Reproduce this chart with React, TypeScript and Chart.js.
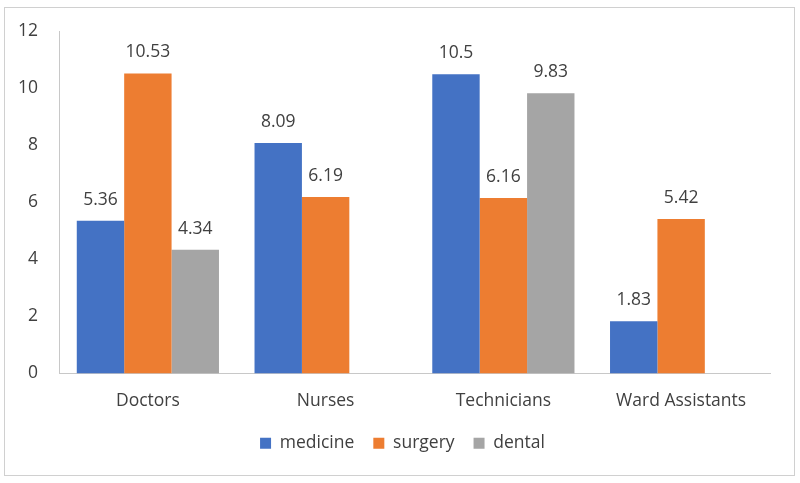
import React, { useEffect, useRef } from "react";
import { Chart, registerables } from "chart.js";

Chart.register(...registerables);

const categories = ["Doctors", "Nurses", "Technicians", "Ward Assistants"];
const medicine = [5.36, 8.09, 10.5, 1.83];
const surgery = [10.53, 6.19, 6.16, 5.42];
const dental: (number | null)[] = [4.34, null, 9.83, null];
const yTicks = [0, 2, 4, 6, 8, 10, 12];

const FONT = "'Open Sans', sans-serif";
const FS = 17.5;
const TEXT = "#404040";

const framePlugin = {
  id: "frame",
  beforeDraw(chart: any) {
    const ctx = chart.ctx;
    ctx.save();
    ctx.fillStyle = "#ffffff";
    ctx.fillRect(0, 0, chart.width, chart.height);
    ctx.strokeStyle = "#d0d0d0";
    ctx.lineWidth = 1;
    ctx.strokeRect(4.5, 7.5, 790, 468);
    ctx.restore();
  },
};

const labelPlugin = {
  id: "valueLabels",
  afterDatasetsDraw(chart: any) {
    const ctx = chart.ctx;
    ctx.save();
    ctx.font = `${FS}px ${FONT}`;
    ctx.fillStyle = TEXT;
    ctx.textAlign = "center";
    ctx.textBaseline = "middle";
    chart.data.datasets.forEach((ds: any, di: number) => {
      const meta = chart.getDatasetMeta(di);
      meta.data.forEach((el: any, i: number) => {
        const v = ds.data[i];
        if (v === null || v === undefined) return;
        ctx.fillText(String(v), el.x, el.y - 21);
      });
    });
    ctx.restore();
  },
};

export default function App() {
  const ref = useRef<HTMLCanvasElement>(null);
  useEffect(() => {
    if (!ref.current) return;
    const chart = new Chart(ref.current, {
      type: "bar",
      data: {
        labels: categories,
        datasets: [
          { label: "medicine", data: medicine, backgroundColor: "#4472C4", yAxisID: "y" },
          { label: "surgery", data: surgery, backgroundColor: "#ED7D31", yAxisID: "y" },
          { label: "dental", data: dental, backgroundColor: "#A5A5A5", yAxisID: "y" },
        ],
      },
      options: {
        animation: false,
        responsive: false,
        maintainAspectRatio: false,
        layout: { padding: { left: 5, right: 0, top: 31, bottom: 21 } },
        datasets: { bar: { categoryPercentage: 0.8, barPercentage: 1 } },
        scales: {
          x: {
            grid: { display: false },
            border: { display: true, color: "#c8c8c8", width: 1 },
            ticks: { color: TEXT, font: { family: FONT, size: FS }, padding: 9 },
            afterFit: (s: any) => { s.height = 42; },
          },
          y: {
            min: 0,
            max: 12,
            afterBuildTicks: (s: any) => { s.ticks = yTicks.map((v) => ({ value: v })); },
            grid: { display: false, drawTicks: false },
            border: { display: true, color: "#c8c8c8", width: 1 },
            ticks: { color: TEXT, font: { family: FONT, size: FS }, padding: 21 },
            afterFit: (s: any) => { s.width = 54; },
          },
          yRight: {
            position: "right",
            display: true,
            grid: { display: false, drawTicks: false },
            border: { display: false },
            ticks: { display: false },
            afterFit: (s: any) => { s.width = 30; },
          },
        },
        plugins: {
          legend: {
            position: "bottom",
            labels: {
              color: TEXT,
              font: { family: FONT, size: FS },
              boxWidth: 11,
              boxHeight: 11,
              padding: 19,
            },
          },
          tooltip: { enabled: false },
        },
      },
      plugins: [framePlugin, labelPlugin],
    });
    return () => chart.destroy();
  }, []);
  return (
    <div style={{ position: "fixed", left: 0, top: 0, width: 800, height: 483 }}>
      <canvas ref={ref} width={800} height={483} style={{ width: 800, height: 483 }} />
    </div>
  );
}
